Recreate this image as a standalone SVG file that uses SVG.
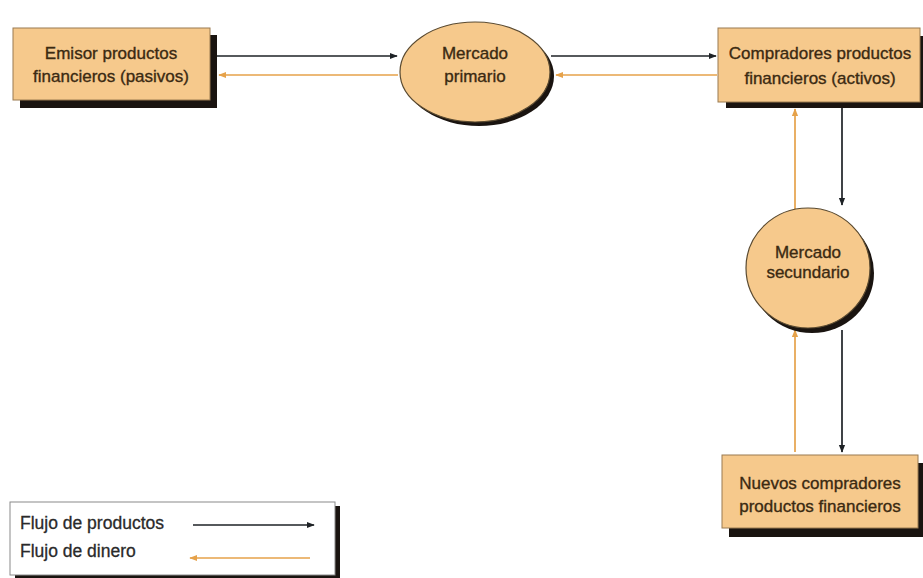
<svg xmlns="http://www.w3.org/2000/svg" width="923" height="578" viewBox="0 0 923 578">
<defs>
<style>
.box{fill:#f6c98c;stroke:#9a7a50;stroke-width:1}
.shadow{fill:#1a1410}
.t{font-family:"Liberation Sans",Arial,sans-serif;font-size:17px;fill:#3b2a12;stroke:#3b2a12;stroke-width:0.35;text-anchor:middle}
.lt{font-family:"Liberation Sans",Arial,sans-serif;font-size:17.5px;fill:#2a2a2a;stroke:#2a2a2a;stroke-width:0.3}
.prod{stroke:#1e2226;stroke-width:1.7;fill:none;marker-end:url(#ab)}
.din{stroke:#e6a24a;stroke-width:1.7;fill:none;marker-end:url(#ao)}
</style>
<marker id="ab" viewBox="0 0 10 10" refX="9" refY="5" markerWidth="8" markerHeight="8" orient="auto" markerUnits="userSpaceOnUse"><path d="M0,1 L10,5 L0,9 z" fill="#1e2226"/></marker>
<marker id="ao" viewBox="0 0 10 10" refX="9" refY="5" markerWidth="8" markerHeight="8" orient="auto" markerUnits="userSpaceOnUse"><path d="M0,1 L10,5 L0,9 z" fill="#e6a24a"/></marker>
</defs>
<rect width="923" height="578" fill="#ffffff"/>
<g id="connectors">
<line class="prod" x1="212" y1="56" x2="397" y2="56"/>
<line class="din" x1="398" y1="75" x2="219" y2="75"/>
<line class="prod" x1="551" y1="56" x2="716" y2="56"/>
<line class="din" x1="717" y1="75" x2="556" y2="75"/>
<line class="prod" x1="842" y1="108" x2="842" y2="205"/>
<line class="din" x1="795" y1="211" x2="795" y2="109"/>
<line class="prod" x1="842" y1="330" x2="842" y2="452"/>
<line class="din" x1="795" y1="452" x2="795" y2="330"/>
</g>
<g id="emisor">
<rect class="shadow" x="20" y="35" width="197" height="73"/>
<rect class="box" x="13" y="28" width="197" height="72"/>
<text class="t" x="111" y="59">Emisor productos</text>
<text class="t" x="111" y="82">financieros (pasivos)</text>
</g>
<g id="mercado-primario">
<ellipse class="shadow" cx="479" cy="76" rx="75" ry="50"/>
<ellipse cx="475" cy="72" rx="75" ry="50" fill="#f6c98c" stroke="#5a4a30" stroke-width="1.2"/>
<text class="t" x="475" y="59">Mercado</text>
<text class="t" x="475" y="82">primario</text>
</g>
<g id="compradores">
<rect class="shadow" x="726" y="36" width="197" height="72"/>
<rect class="box" x="718" y="28" width="202" height="74"/>
<text class="t" x="820" y="59">Compradores productos</text>
<text class="t" x="820" y="84">financieros (activos)</text>
</g>
<g id="mercado-secundario">
<ellipse class="shadow" cx="812" cy="273" rx="62" ry="60"/>
<ellipse cx="808" cy="268" rx="62" ry="60" fill="#f6c98c" stroke="#5a4a30" stroke-width="1.2"/>
<text class="t" x="808" y="258">Mercado</text>
<text class="t" x="808" y="278">secundario</text>
</g>
<g id="nuevos">
<rect class="shadow" x="729" y="463" width="194" height="74"/>
<rect class="box" x="722" y="455" width="196" height="73"/>
<text class="t" x="820" y="489">Nuevos compradores</text>
<text class="t" x="820" y="512">productos financieros</text>
</g>
<g id="legend">
<rect class="shadow" x="15" y="506" width="325" height="72"/>
<rect x="10" y="502" width="325" height="73" fill="#ffffff" stroke="#8a8a8a" stroke-width="1"/>
<text class="lt" x="20" y="529">Flujo de productos</text>
<text class="lt" x="20" y="557">Flujo de dinero</text>
<line class="prod" x1="193" y1="525" x2="314" y2="525"/>
<line class="din" x1="310" y1="558" x2="190" y2="558"/>
</g>
</svg>
